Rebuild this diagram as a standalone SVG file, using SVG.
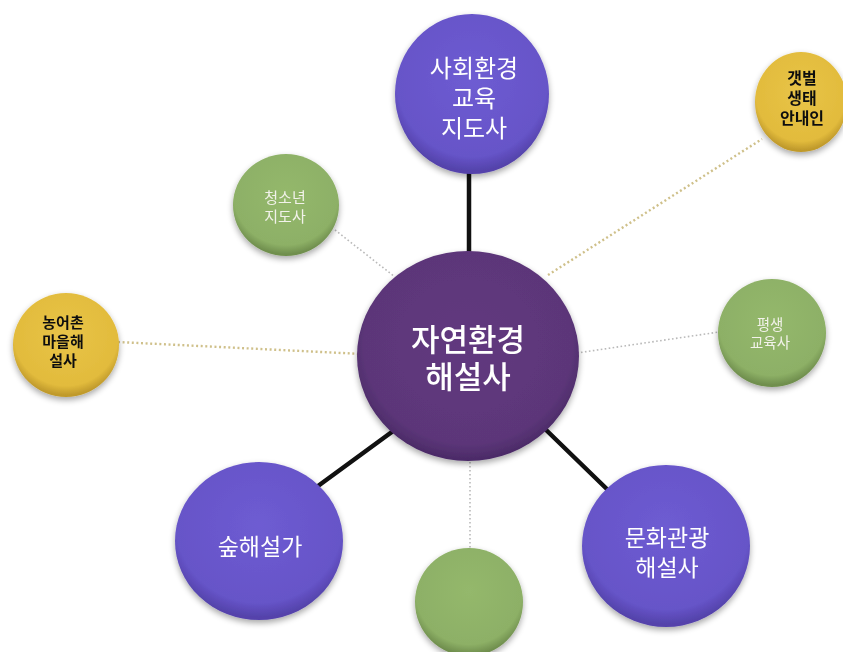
<svg xmlns="http://www.w3.org/2000/svg" width="843" height="652" viewBox="0 0 843 652">
<style>
  text { font-family: "Liberation Sans", "Noto Sans CJK KR", sans-serif; text-anchor: middle; }
  .solid { stroke: #111; stroke-width: 4.5; fill: none; stroke-linecap: round; }
  .dotg { stroke: #b9b9b9; stroke-width: 1.6; stroke-dasharray: 1.6 2.4; fill: none; }
  .doty { stroke: #cfc08a; stroke-width: 2.4; stroke-dasharray: 2 2.6; fill: none; }
  .wt { fill: #ffffff; }
  .kt { fill: #111111; font-weight: bold; }
  .gt { fill: #f2f2ea; }
</style>
<defs>
  <radialGradient id="gCenter" cx="50%" cy="45%" r="55%">
    <stop offset="0" stop-color="#62397f"/>
    <stop offset="0.85" stop-color="#5c3679"/>
    <stop offset="1" stop-color="#4a2a66"/>
  </radialGradient>
  <radialGradient id="gPurple" cx="50%" cy="40%" r="58%">
    <stop offset="0" stop-color="#6e5cd2"/>
    <stop offset="0.85" stop-color="#6654c8"/>
    <stop offset="1" stop-color="#5443ab"/>
  </radialGradient>
  <radialGradient id="gGreen" cx="50%" cy="40%" r="58%">
    <stop offset="0" stop-color="#94b86c"/>
    <stop offset="0.85" stop-color="#8db066"/>
    <stop offset="1" stop-color="#708f4e"/>
  </radialGradient>
  <radialGradient id="gGold" cx="50%" cy="40%" r="58%">
    <stop offset="0" stop-color="#e8c448"/>
    <stop offset="0.85" stop-color="#e2bb3c"/>
    <stop offset="1" stop-color="#c09a2c"/>
  </radialGradient>
  <filter id="sh" x="-20%" y="-20%" width="140%" height="150%">
    <feGaussianBlur in="SourceAlpha" stdDeviation="3"/>
    <feOffset dx="0" dy="3" result="b"/>
    <feComponentTransfer><feFuncA type="linear" slope="0.35"/></feComponentTransfer>
    <feMerge><feMergeNode/><feMergeNode in="SourceGraphic"/></feMerge>
  </filter>
</defs>

<g id="connectors">
  <line class="solid" x1="469" y1="170" x2="469" y2="252"/>
  <line class="solid" x1="400" y1="426" x2="318" y2="486"/>
  <line class="solid" x1="542" y1="426" x2="612" y2="494"/>
  <line class="dotg" x1="335" y1="230" x2="395" y2="277"/>
  <line class="doty" x1="118" y1="342" x2="362" y2="354"/>
  <line class="doty" x1="548" y1="275" x2="762" y2="139"/>
  <line class="dotg" x1="577" y1="353" x2="719" y2="332"/>
  <line class="dotg" x1="470" y1="458" x2="470" y2="550"/>
</g>

<g id="node-center" filter="url(#sh)">
  <ellipse cx="468" cy="356" rx="111" ry="105" fill="url(#gCenter)"/>
  <text class="wt" x="468" y="351" font-size="31" font-weight="500"><tspan x="468">자연환경</tspan><tspan x="468" dy="37">해설사</tspan></text>
</g>

<g id="node-social" filter="url(#sh)">
  <ellipse cx="472" cy="94" rx="77" ry="80" fill="url(#gPurple)"/>
  <text class="wt" x="474" y="77" font-size="24"><tspan x="474">사회환경</tspan><tspan x="474" dy="30">교육</tspan><tspan x="474" dy="30">지도사</tspan></text>
</g>

<g id="node-tidal" filter="url(#sh)">
  <ellipse cx="801" cy="102" rx="46" ry="50" fill="url(#gGold)"/>
  <text class="kt" x="802" y="84" font-size="16"><tspan x="802">갯벌</tspan><tspan x="802" dy="20">생태</tspan><tspan x="802" dy="20">안내인</tspan></text>
</g>

<g id="node-youth" filter="url(#sh)">
  <ellipse cx="286" cy="205" rx="53" ry="51" fill="url(#gGreen)"/>
  <text class="gt" x="285" y="203" font-size="15"><tspan x="285">청소년</tspan><tspan x="285" dy="19">지도사</tspan></text>
</g>

<g id="node-village" filter="url(#sh)">
  <ellipse cx="66" cy="345" rx="53" ry="52" fill="url(#gGold)"/>
  <text class="kt" x="63" y="328" font-size="15"><tspan x="63">농어촌</tspan><tspan x="63" dy="19">마을해</tspan><tspan x="63" dy="19">설사</tspan></text>
</g>

<g id="node-lifelong" filter="url(#sh)">
  <ellipse cx="772" cy="333" rx="54" ry="54" fill="url(#gGreen)"/>
  <text class="gt" x="770" y="330" font-size="14.5"><tspan x="770">평생</tspan><tspan x="770" dy="17.5">교육사</tspan></text>
</g>

<g id="node-bottom" filter="url(#sh)">
  <ellipse cx="469" cy="602" rx="54" ry="54" fill="url(#gGreen)"/>
</g>

<g id="node-forest" filter="url(#sh)">
  <ellipse cx="259" cy="541" rx="84" ry="79" fill="url(#gPurple)"/>
  <text class="wt" x="260" y="555" font-size="23">숲해설가</text>
</g>

<g id="node-culture" filter="url(#sh)">
  <ellipse cx="666" cy="546" rx="84" ry="81" fill="url(#gPurple)"/>
  <text class="wt" x="667" y="546" font-size="23"><tspan x="667">문화관광</tspan><tspan x="667" dy="30">해설사</tspan></text>
</g>
</svg>
